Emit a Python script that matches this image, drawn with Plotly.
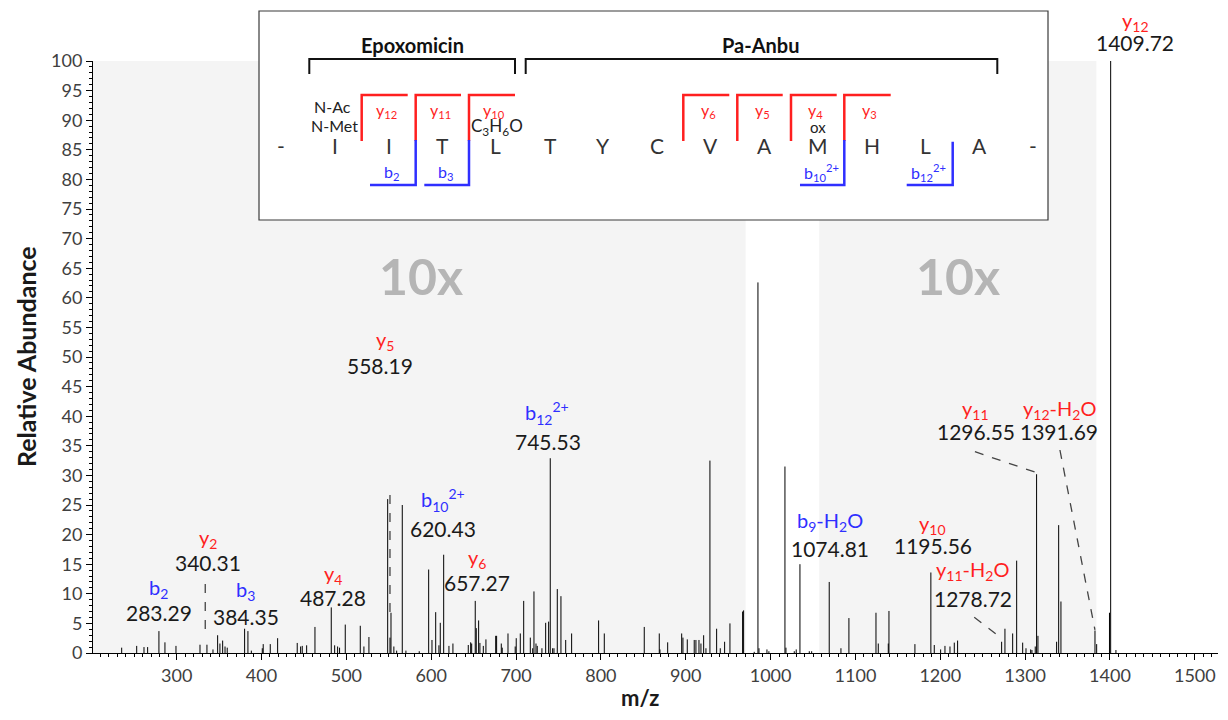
import plotly.graph_objects as go

# ---------------- data ----------------
mz = [235.2, 252.9, 261.5, 265.8, 279.1, 286.2, 299.2, 327.5, 335.7, 342.8,
      348.3, 351.0, 354.2, 357.0, 359.6, 380.1, 384.0, 388.0, 400.9, 402.0,
      410.3, 419.0, 442.1, 446.1, 448.0, 453.2, 463.0, 482.2, 486.2, 489.7,
      492.0, 498.7, 516.4, 520.7, 526.6, 548.7, 551.4, 552.6, 556.0, 559.3,
      565.9, 570.2, 585.9, 597.0, 600.9, 605.3, 609.1, 610.7, 614.7, 620.9,
      625.6, 643.7, 646.5, 647.7, 651.9, 653.1, 655.9, 657.4, 661.4, 664.5,
      676.0, 677.1, 682.6, 683.7, 690.5, 699.0, 700.2, 705.0, 709.0, 716.8,
      719.6, 721.1, 723.5, 725.0, 730.5, 734.9, 738.4, 740.3, 743.1, 744.7,
      748.6, 752.9, 758.5, 765.5, 797.3, 804.0, 851.1, 868.8, 869.6, 878.7,
      895.2, 896.7, 901.8, 910.0, 912.0, 915.6, 917.9, 921.1, 923.8, 928.5,
      936.4, 940.7, 945.8, 952.1, 967.0, 968.2, 980.7, 985.1, 986.3, 995.7,
      998.0, 1016.9, 1018.1, 1027.9, 1030.2, 1034.6, 1045.6, 1048.4, 1069.1, 1082.9,
      1092.3, 1124.2, 1126.9, 1138.7, 1139.5, 1170.1, 1188.9, 1192.9, 1200.4, 1205.5,
      1211.4, 1216.5, 1220.4, 1272.3, 1276.2, 1285.3, 1290.0, 1297.1, 1301.0, 1306.5,
      1308.0, 1311.9, 1313.5, 1315.1, 1337.1, 1339.5, 1342.2, 1382.3, 1384.3, 1399.4,
      1400.8, 1407.0]
intensity = [0.9, 1.2, 1.0, 1.0, 3.7, 1.8, 1.2, 1.4, 1.4, 0.6,
             3.0, 1.6, 2.1, 1.1, 0.9, 4.1, 3.7, 0.4, 0.8, 1.5,
             1.5, 2.5, 1.7, 1.1, 1.2, 1.3, 4.4, 7.7, 1.3, 1.1,
             0.9, 4.8, 4.6, 1.1, 2.7, 26.0, 2.6, 6.8, 1.1, 0.4,
             25.0, 0.4, 0.3, 14.1, 2.2, 6.9, 1.3, 5.1, 16.6, 1.2,
             1.6, 1.35, 1.8, 1.6, 8.8, 4.2, 5.5, 1.7, 1.2, 2.3,
             2.9, 2.9, 1.6, 0.9, 3.3, 1.1, 2.5, 3.3, 8.8, 2.6,
             0.8, 10.4, 1.6, 1.2, 0.8, 5.1, 5.3, 32.9, 0.8, 0.8,
             10.8, 9.6, 2.2, 3.3, 5.5, 3.3, 4.4, 3.3, 0.6, 1.8,
             3.3, 2.6, 2.3, 2.2, 2.2, 2.2, 1.6, 3.0, 0.8, 32.5,
             4.1, 0.8, 1.9, 5.0, 7.0, 7.2, 0.2, 62.6, 0.8, 0.6,
             0.3, 31.5, 0.9, 0.3, 0.6, 15.0, 0.3, 0.3, 12.0, 0.8,
             5.9, 6.8, 1.6, 1.6, 7.1, 1.5, 13.6, 1.35, 0.6, 1.2,
             1.1, 1.75, 2.1, 1.9, 4.1, 3.3, 15.6, 1.75, 0.8, 0.6,
             0.5, 1.1, 30.2, 2.9, 1.9, 21.6, 8.7, 3.8, 1.5, 6.8,
             100.0, 0.5]

# magnified (10x) regions of the spectrum
zoom_start = [201.4, 1057.3]
zoom_end = [970.6, 1384.0]

# annotated ions
ion_names = ["b<sub>2</sub>", "y<sub>2</sub>", "b<sub>3</sub>", "y<sub>4</sub>", "y<sub>5</sub>",
             "b<sub>10</sub><sup>2+</sup>", "y<sub>6</sub>", "b<sub>12</sub><sup>2+</sup>",
             "b<sub>9</sub>-H<sub>2</sub>O", "y<sub>10</sub>", "y<sub>11</sub>-H<sub>2</sub>O",
             "y<sub>11</sub>", "y<sub>12</sub>-H<sub>2</sub>O", "y<sub>12</sub>"]
ion_values = ["283.29", "340.31", "384.35", "487.28", "558.19", "620.43", "657.27", "745.53",
              "1074.81", "1195.56", "1278.72", "1296.55", "1391.69", "1409.72"]
ion_types = ["b", "y", "b", "y", "y", "b", "y", "b", "b", "y", "y", "y", "y", "y"]

sequence = ["-", "I", "I", "T", "L", "T", "Y", "C", "V", "A", "M", "H", "L", "A", "-"]

tick_vals_x = list(range(300, 1501, 100))
tick_vals_y = list(range(0, 101, 5))

# ---------------- styling / layout ----------------
RED = "#ff1f1f"
BLUE = "#2f2fff"
FONT = "Lato"
OFF = 8                      # page body margin
W, H = 1228 - 2 * OFF, 720 - 2 * OFF
PL, PR, PT, PB = 93, 1218, 61, 653   # plot area in screen pixels
L, R, T, B = PL - OFF, W - (PR - OFF), PT - OFF, H - (PB - OFF)
PW, PH = PR - PL, PB - PT


def pp(x, y):
    """screen pixel -> paper coordinates"""
    return (x - PL) / PW, (PB - y) / PH


# label placements (screen pixels, centres)
name_pos = [(158.3, 588.3), (208.3, 538.3), (245.3, 590), (333.3, 574), (385, 340),
            (443.3, 500), (476.7, 558.3), (546.7, 413.3), (830, 521.7), (932.7, 524),
            (972.7, 570.7), (975, 409), (1059.3, 409), (1135, 21)]
value_pos = [(159, 612.7), (208.3, 562.7), (246, 616), (333.3, 597), (380, 365),
             (443.3, 528.3), (477.3, 582.7), (548.3, 441.7), (830, 548.3), (932.7, 545),
             (973.3, 598.3), (976, 431.7), (1059.3, 431.7), (1135, 42)]
leaders = [((333.7, 11.66), (333.7, 2.75)), ((551.4, 26.69), (551.4, 6.71)),
           ((1240.8, 34.0), (1313.5, 30.46)), ((1240.0, 6.03), (1272.3, 2.48)),
           ((1341.0, 34.29), (1382.3, 3.89))]

px, py = [], []
for m, v in zip(mz, intensity):
    px += [m, m, None]
    py += [0, v, None]

fig = go.Figure()
fig.add_trace(go.Scatter(x=px, y=py, mode="lines", line=dict(color="black", width=1),
                         hoverinfo="skip", showlegend=False))

shapes = []
for s, e in zip(zoom_start, zoom_end):
    shapes.append(dict(type="rect", xref="x", yref="y", x0=s, x1=e, y0=0, y1=100,
                       fillcolor="#f4f4f4", line=dict(width=0), layer="below"))
for (a, b) in leaders:
    shapes.append(dict(type="line", xref="x", yref="y", x0=a[0], y0=a[1], x1=b[0], y1=b[1],
                       line=dict(color="#444444", width=1.3, dash="dash")))

annotations = []


def txt(x, y, s, size, color="#222222", angle=0):
    a, b = pp(x, y)
    annotations.append(dict(x=a, y=b, xref="paper", yref="paper", text=s, showarrow=False,
                            font=dict(family=FONT, size=size, color=color), textangle=angle,
                            xanchor="center", yanchor="middle"))


for name, val, t, (nx, ny), (vx, vy) in zip(ion_names, ion_values, ion_types, name_pos, value_pos):
    txt(nx, ny, name, 20, RED if t == "y" else BLUE)
    txt(vx, vy, val, 21, "#1a1a1a")

# 10x markers
for cx in [421, 958]:
    txt(cx, 276, "<b>10x</b>", 50, "#b5b5b5")

# axis titles
txt(26, 357, "<b>Relative Abundance</b>", 25, "#1a1a1a", -90)
txt(640, 697, "<b>m/z</b>", 22, "#1a1a1a")

# ---------------- inset (peptide fragment map) ----------------
x0, y0 = pp(259, 11)
x1, y1 = pp(1048, 220)
shapes.append(dict(type="rect", xref="paper", yref="paper", x0=x0, y0=y1, x1=x1, y1=y0,
                   fillcolor="white", line=dict(color="#3a3a3a", width=1.2)))


def seg(pts, color, width=2.5):
    path = ""
    for i, (a, b) in enumerate(pts):
        xa, ya = pp(a, b)
        path += ("M" if i == 0 else "L") + f"{xa:.5f},{ya:.5f} "
    shapes.append(dict(type="path", xref="paper", yref="paper", path=path.strip(),
                       line=dict(color=color, width=width)))


seg([(309.3, 74), (309.3, 59), (515, 59), (515, 74)], "#111111", 2)
seg([(525.7, 74), (525.7, 59), (997.3, 59), (997.3, 74)], "#111111", 2)
txt(412, 45, "<b>Epoxomicin</b>", 20, "#111111")
txt(760, 45, "<b>Pa-Anbu</b>", 20, "#111111")

seq_x = [281, 335, 388.7, 442.7, 495.7, 550, 603.3, 656.7, 710, 764.3, 818.3, 871.7, 925, 979, 1033.3]
for s, sx in zip(sequence, seq_x):
    txt(sx, 145, s, 21, "#333333")

y_brk = [(361.7, 407.7, "y<sub>12</sub>"), (415.7, 461, "y<sub>11</sub>"), (469, 515, "y<sub>10</sub>"),
         (683.3, 729.3, "y<sub>6</sub>"), (737.3, 782.7, "y<sub>5</sub>"), (791, 836.7, "y<sub>4</sub>"),
         (844.3, 890.7, "y<sub>3</sub>")]
for vx, ex, lab in y_brk:
    seg([(vx, 141), (vx, 95), (ex, 95)], RED)
    txt((vx + ex) / 2 + 2, 110, lab, 16, RED)

b_brk = [(415.7, 370, 140, "b<sub>2</sub>"), (469, 424.3, 140, "b<sub>3</sub>"),
         (844.3, 800, 140, "b<sub>10</sub><sup>2+</sup>"), (952.7, 906.7, 141.7, "b<sub>12</sub><sup>2+</sup>")]
for vx, sx, top, lab in b_brk:
    seg([(vx, top), (vx, 185), (sx, 185)], BLUE)
    txt((vx + sx) / 2 - 1, 173, lab, 16, BLUE)

txt(332.3, 106.7, "N-Ac", 16)
txt(334.3, 125, "N-Met", 16)
txt(496.7, 126.7, "C<sub>3</sub>H<sub>6</sub>O", 17)
txt(818.3, 126.7, "ox", 15)

fig.update_layout(
    width=W, height=H,
    margin=dict(l=L, r=R, t=T, b=B),
    paper_bgcolor="white", plot_bgcolor="white",
    font=dict(family=FONT, size=18, color="#404040"),
    shapes=shapes, annotations=annotations,
    showlegend=False,
    xaxis=dict(range=[201.4, 1527.3], tickvals=tick_vals_x, ticks="outside", ticklen=6,
               tickcolor="black", showline=True, linecolor="black", linewidth=1,
               showgrid=False, zeroline=False, tickfont=dict(size=18, color="#404040"),
               minor=dict(dtick=10, ticks="outside", ticklen=3, tickcolor="black", showgrid=False)),
    yaxis=dict(range=[0, 100], tickvals=tick_vals_y, ticks="outside", ticklen=6,
               tickcolor="black", showline=True, linecolor="black", linewidth=1,
               showgrid=False, zeroline=False, tickfont=dict(size=18, color="#404040"),
               minor=dict(dtick=1, ticks="outside", ticklen=3, tickcolor="black", showgrid=False)),
)

fig.write_html("out.html")
